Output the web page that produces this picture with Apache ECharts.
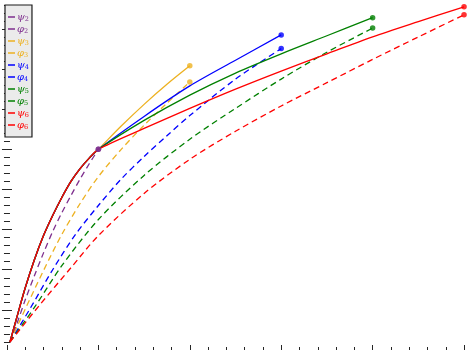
<!DOCTYPE html>
<html>
<head>
<meta charset="utf-8">
<script src="https://cdn.jsdelivr.net/npm/echarts@6/dist/echarts.min.js"></script>
<style>html,body{margin:0;padding:0;background:#fff}#c{width:474px;height:350px}</style>
</head>
<body>
<div id="c"></div>
<script>
// ---- data (x, value) ----
const common = [[0.033,0.2],[0.1,0.75],[0.2,1.55],[0.3,2.25],[0.4,2.85],[0.5,3.35],[0.6,3.8],[0.7,4.2],[0.8,4.52],[0.9,4.78],[1,5]];
const psi2 = common;
const phi2 = [[0.033,0.2],[0.1,0.6],[0.2,1.25],[0.3,1.85],[0.4,2.42],[0.5,2.95],[0.6,3.42],[0.7,3.85],[0.8,4.26],[0.9,4.64],[1,5]];
const psi3 = common.concat([[1.25,5.58],[1.5,6.12],[1.75,6.62],[2.0,7.08]]);
const phi3 = [[0.033,0.2],[0.2,1.02],[0.4,1.98],[0.6,2.88],[0.8,3.65],[1.0,4.32],[1.25,5.0],[1.5,5.6],[1.75,6.15],[2.0,6.68]];
const psi4 = common.concat([[1.5,5.82],[2.0,6.58],[2.5,7.22],[3.0,7.85]]);
const phi4 = [[0.033,0.2],[0.25,1.02],[0.5,2.0],[0.75,2.88],[1.0,3.6],[1.25,4.26],[1.5,4.82],[1.75,5.34],[2.0,5.84],[2.5,6.75],[3.0,7.51]];
const psi5 = common.concat([[1.5,5.72],[2.0,6.35],[2.5,6.9],[3.0,7.38],[3.5,7.83],[4.0,8.28]]);
const phi5 = [[0.033,0.2],[0.3,1.06],[0.6,2.1],[1.0,3.25],[1.5,4.35],[2.0,5.25],[2.5,6.02],[3.0,6.75],[3.5,7.42],[4.0,8.02]];
const psi6 = common.concat([[1.5,5.52],[2.0,6.02],[2.5,6.5],[3.0,6.95],[3.5,7.38],[4.0,7.8],[4.5,8.18],[5.0,8.55]]);
const phi6 = [[0.033,0.2],[0.35,1.1],[0.7,2.05],[1.0,2.85],[1.5,3.9],[2.0,4.75],[2.5,5.45],[3.0,6.08],[3.5,6.66],[4.0,7.24],[4.5,7.8],[5.0,8.35]];

const seriesNames = ['ψ2','φ2','ψ3','φ3','ψ4','φ4','ψ5','φ5','ψ6','φ6'];
const seriesData = [psi2,phi2,psi3,phi3,psi4,phi4,psi5,phi5,psi6,phi6];
const xMajor = [0,1,2,3,4,5];
const xMinor = [0.2,0.4,0.6,0.8,1.2,1.4,1.6,1.8,2.2,2.4,2.6,2.8,3.2,3.4,3.6,3.8,4.2,4.4,4.6,4.8];
const yMajor = [0,1,2,3,4,5,6,7,8];
const yMinor = [0.2,0.4,0.6,0.8,1.2,1.4,1.6,1.8,2.2,2.4,2.6,2.8,3.2,3.4,3.6,3.8,4.2,4.4,4.6,4.8,5.2,5.4,5.6,5.8,6.2,6.4,6.6,6.8,7.2,7.4,7.6,7.8,8.2,8.4,8.6];

// ---- styling ----
const colors = ['#7E2F8E','#7E2F8E','#EDB120','#EDB120','#0000FF','#0000FF','#008000','#008000','#FF0000','#FF0000'];
const XMIN = -0.07625, XMAX = 5.1089, YMIN = 0, YMAX = 8.7205;
const tickColor = '#262626';

function xAx(pos, vals, len) {
  return {type:'value', position:pos, min:XMIN, max:XMAX,
    axisLine:{show:false}, axisLabel:{show:false}, splitLine:{show:false},
    axisTick:{show:true, inside:true, length:len, customValues:vals, lineStyle:{color:tickColor,width:1}}};
}
function yAx(pos, vals, len) {
  return {type:'value', position:pos, min:YMIN, max:YMAX,
    axisLine:{show:false}, axisLabel:{show:false}, splitLine:{show:false},
    axisTick:{show:true, inside:true, length:len, customValues:vals, lineStyle:{color:tickColor,width:1}}};
}

const series = [];
seriesNames.forEach((n, i) => {
  const dashed = n[0] === 'φ';
  series.push({
    name:n, type:'line', data:seriesData[i], xAxisIndex:0, yAxisIndex:0,
    showSymbol:false, smooth:0.3, animation:false,
    lineStyle:{color:colors[i], width:1.3, type: dashed ? [6,4] : 'solid'},
    itemStyle:{color:colors[i]}, z:2+i
  });
});
seriesNames.forEach((n, i) => {
  const d = seriesData[i];
  series.push({
    name:n+'_end', type:'scatter', data:[d[d.length-1]], xAxisIndex:0, yAxisIndex:0,
    symbol:'circle', symbolSize:5.5, itemStyle:{color:colors[i]}, animation:false, z:20+i
  });
});

const rich = {};
colors.forEach((c, i) => {
  rich['g'+i] = {color:c, fontFamily:'DejaVu Serif', fontStyle:'italic', fontSize:10, lineHeight:12};
  rich['s'+i] = {color:c, fontFamily:'DejaVu Serif', fontSize:6.5, lineHeight:12, verticalAlign:'bottom', padding:[3,0,0,0]};
});

const chart = echarts.init(document.getElementById('c'), null, {renderer:'canvas'});
chart.setOption({
  animation:false,
  backgroundColor:'#ffffff',
  grid:{left:-1, right:-1, top:-1, bottom:0, containLabel:false},
  xAxis:[xAx('bottom', xMajor, 5), xAx('bottom', xMinor, 3), xAx('top', xMajor, 5), xAx('top', xMinor, 3)],
  yAxis:[yAx('left', yMajor, 5), yAx('left', yMinor, 3), yAx('right', yMajor, 5), yAx('right', yMinor, 3)],
  legend:{
    show:true, orient:'vertical', left:5, top:5,
    data:seriesNames.map((n) => ({name:n})),
    icon:'rect', itemWidth:7, itemHeight:1.5, itemGap:0,
    padding:[6,3,6,3],
    backgroundColor:'#ebebeb', borderColor:'#1a1a1a', borderWidth:1.2,
    selectedMode:false,
    formatter:(name) => { const i = seriesNames.indexOf(name); return '{g'+i+'|'+name[0]+'}{s'+i+'|'+name.slice(1)+'}'; },
    textStyle:{rich:rich, fontSize:10, lineHeight:12, padding:[0,0,0,-3]}
  },
  series:series
});
</script>
</body>
</html>
